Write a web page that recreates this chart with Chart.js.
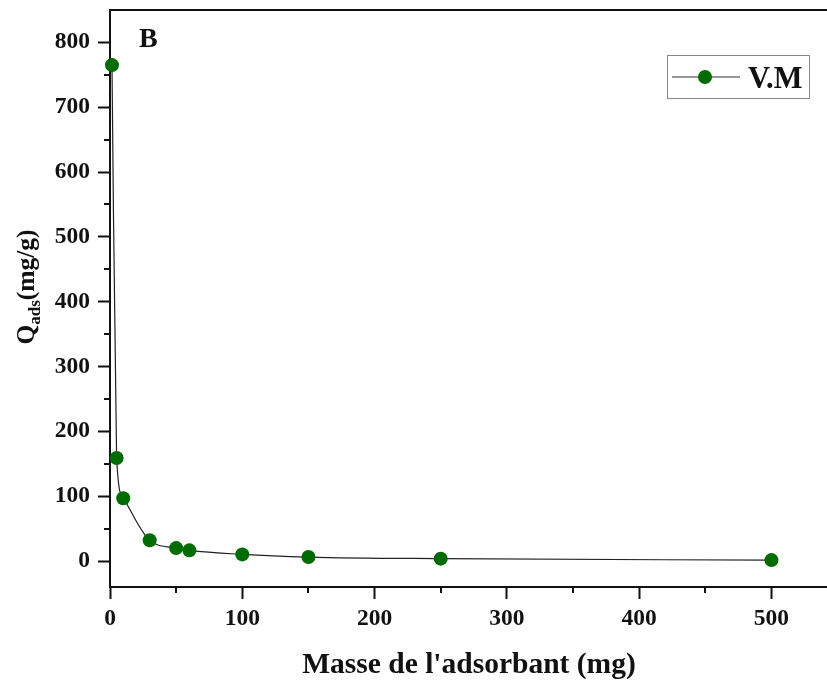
<!DOCTYPE html>
<html>
<head>
<meta charset="utf-8">
<script src="https://cdn.jsdelivr.net/npm/chart.js@4.4.1/dist/chart.umd.min.js"></script>
<style>
  html, body { margin: 0; padding: 0; background: #fff; }
  #wrap { width: 827px; height: 685px; }
</style>
</head>
<body>
<div id="wrap"><canvas id="chart"></canvas></div>
<script>
// adsorbent mass (mg) vs adsorbed quantity (mg/g)
const masses = [1.5, 5, 10, 30, 50, 60, 100, 150, 250, 500];
const qads = [765, 159, 97, 32, 20, 16.5, 10.3, 6.2, 3.7, 1.5];
const seriesName = "V.M";
const xMajor = [0, 100, 200, 300, 400, 500];
const xMinor = [50, 150, 250, 350, 450];
const yMajor = [0, 100, 200, 300, 400, 500, 600, 700, 800];
const yMinor = [50, 150, 250, 350, 450, 550, 650, 750];

const SERIF = "'Liberation Serif', 'Times New Roman', serif";
const GREEN = "#006b00";

// frame, minor ticks, axis titles, panel letter and legend
const decor = {
  id: "decor",
  afterDraw(chart) {
    const ctx = chart.ctx;
    const a = chart.chartArea;
    const xs = chart.scales.x, ys = chart.scales.y;
    ctx.save();
    ctx.strokeStyle = "#111";
    ctx.lineWidth = 2;
    ctx.beginPath();
    ctx.moveTo(a.left - 1, a.top);
    ctx.lineTo(chart.width, a.top);
    ctx.stroke();

    ctx.lineWidth = 2;
    ctx.beginPath();
    xMinor.forEach(v => {
      const px = Math.round(xs.getPixelForValue(v));
      ctx.moveTo(px, a.bottom);
      ctx.lineTo(px, a.bottom + 6);
    });
    yMinor.forEach(v => {
      const py = Math.round(ys.getPixelForValue(v));
      ctx.moveTo(a.left, py);
      ctx.lineTo(a.left - 6, py);
    });
    ctx.stroke();

    ctx.fillStyle = "#111";
    ctx.font = "bold 29.5px " + SERIF;
    ctx.textAlign = "center";
    ctx.textBaseline = "alphabetic";
    ctx.fillText("Masse de l'adsorbant (mg)", 469, 673);

    // rotated y title with subscript
    ctx.translate(34, 287);
    ctx.rotate(-Math.PI / 2);
    const big = "bold 25.5px " + SERIF, small = "bold 17px " + SERIF;
    ctx.font = big; const wQ = ctx.measureText("Q").width;
    ctx.font = small; const wS = ctx.measureText("ads").width;
    ctx.font = big; const wR = ctx.measureText("(mg/g)").width;
    let x0 = -(wQ + wS + wR) / 2;
    ctx.textAlign = "left";
    ctx.font = big; ctx.fillText("Q", x0, 0);
    ctx.font = small; ctx.fillText("ads", x0 + wQ, 6);
    ctx.font = big; ctx.fillText("(mg/g)", x0 + wQ + wS, 0);
    ctx.setTransform(1, 0, 0, 1, 0, 0);

    ctx.font = "bold 28px " + SERIF;
    ctx.textAlign = "left";
    ctx.fillText("B", 139, 47);

    // legend box
    ctx.strokeStyle = "#888";
    ctx.lineWidth = 1;
    ctx.strokeRect(667.5, 55.5, 142, 43);
    ctx.strokeStyle = "#333";
    ctx.lineWidth = 1.2;
    ctx.beginPath();
    ctx.moveTo(672, 77);
    ctx.lineTo(740, 77);
    ctx.stroke();
    ctx.fillStyle = GREEN;
    ctx.beginPath();
    ctx.arc(705, 77, 7, 0, Math.PI * 2);
    ctx.fill();
    ctx.fillStyle = "#111";
    ctx.font = "bold 30.5px " + SERIF;
    ctx.fillText(seriesName, 748, 88);
    ctx.restore();
  }
};

// drop the label overhang padding so the plot area sits where it is set
function noOverhang(s) {
  s.paddingTop = 0; s.paddingBottom = 0;
  s.paddingLeft = 0; s.paddingRight = 0;
}

new Chart(document.getElementById("chart"), {
  type: "line",
  data: {
    datasets: [{
      label: seriesName,
      data: masses.map((m, i) => ({ x: m, y: qads[i] })),
      borderColor: "#222",
      borderWidth: 1.2,
      backgroundColor: GREEN,
      pointBackgroundColor: GREEN,
      pointBorderWidth: 0,
      pointRadius: 7,
      cubicInterpolationMode: "monotone",
      fill: false,
      clip: false
    }]
  },
  options: {
    responsive: true,
    maintainAspectRatio: false,
    animation: false,
    layout: { autoPadding: false, padding: { top: 10, right: 0, left: 0, bottom: 0 } },
    plugins: { legend: { display: false }, tooltip: { enabled: false } },
    scales: {
      x: {
        type: "linear",
        min: 0,
        max: 542,
        afterBuildTicks: s => { s.ticks = xMajor.map(v => ({ value: v })); },
        afterFit: s => { s.height = 98; noOverhang(s); },
        grid: { drawOnChartArea: false, tickLength: 12, tickWidth: 2, tickColor: "#111" },
        border: { color: "#111", width: 2 },
        ticks: {
          color: "#111",
          padding: 6,
          maxRotation: 0,
          font: { family: SERIF, size: 23.5, weight: "bold" }
        }
      },
      y: {
        type: "linear",
        min: -40,
        max: 850,
        afterBuildTicks: s => { s.ticks = yMajor.map(v => ({ value: v })); },
        afterFit: s => { s.width = 110; noOverhang(s); },
        grid: { drawOnChartArea: false, tickLength: 12, tickWidth: 2, tickColor: "#111" },
        border: { color: "#111", width: 2 },
        ticks: {
          color: "#111",
          padding: 8,
          font: { family: SERIF, size: 23.5, weight: "bold" }
        }
      }
    }
  },
  plugins: [decor]
});
</script>
</body>
</html>
